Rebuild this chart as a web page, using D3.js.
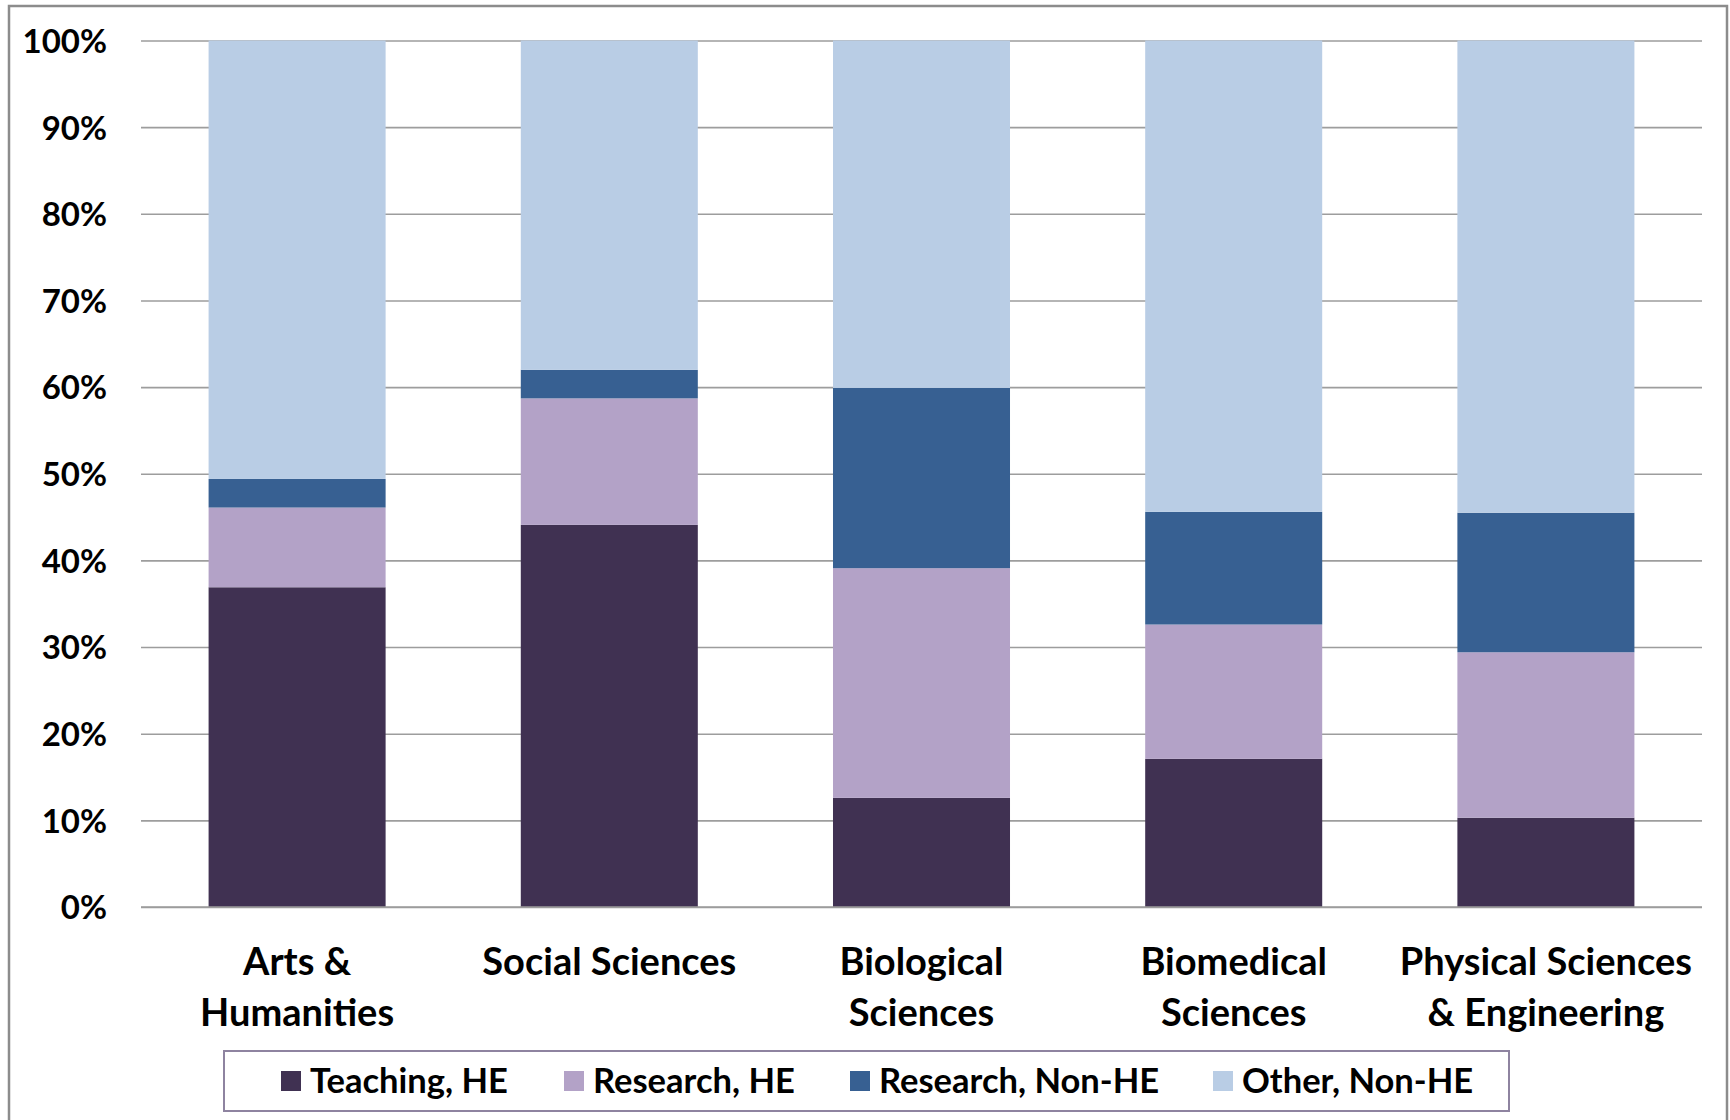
<!DOCTYPE html>
<html>
<head>
<meta charset="utf-8">
<script src="https://cdn.jsdelivr.net/npm/d3@7"></script>
<style>
  body { margin: 0; background: #fff; }
  svg { display: block; font-family: Lato, "Open Sans", sans-serif; font-weight: bold; }
</style>
</head>
<body>
<div id="chart"></div>
<script>
const categories = [
  ['Arts &', 'Humanities'],
  ['Social Sciences'],
  ['Biological', 'Sciences'],
  ['Biomedical', 'Sciences'],
  ['Physical Sciences', '& Engineering'],
];
const seriesNames = ['Teaching, HE', 'Research, HE', 'Research, Non-HE', 'Other, Non-HE'];
const teachingHE = [36.9, 44.1, 12.6, 17.1, 10.3];
const researchHE = [9.2, 14.6, 26.5, 15.5, 19.1];
const researchNonHE = [3.3, 3.3, 20.8, 13.0, 16.1];
const otherNonHE = [50.6, 38.0, 40.1, 54.4, 54.5];
const yTicks = [0, 10, 20, 30, 40, 50, 60, 70, 80, 90, 100];
const colors = ['#403152', '#b3a2c7', '#376092', '#b9cde5'];

const width = 1730, height = 1120;
const margin = { top: 40.5, right: 28, bottom: 213, left: 141 };
const graphWidth = width - margin.left - margin.right;
const graphHeight = height - margin.top - margin.bottom;

const svg = d3.select('#chart')
  .append('svg')
  .attr('width', width)
  .attr('height', height);

// outer frame
svg.append('rect')
  .attr('x', 9).attr('y', 6)
  .attr('width', 1718).attr('height', 1130)
  .attr('fill', 'none')
  .attr('stroke', '#8c8c8c')
  .attr('stroke-width', 2.5);

const g = svg.append('g').attr('transform', `translate(${margin.left},${margin.top})`);

const keys = categories.map((c) => c.join(' '));
const rows = keys.map((k, i) => ({
  key: k,
  s0: teachingHE[i],
  s1: researchHE[i],
  s2: researchNonHE[i],
  s3: otherNonHE[i],
}));

const xScale = d3.scaleBand()
  .domain(keys)
  .range([0, graphWidth])
  .paddingInner(0.433)
  .paddingOuter(0.2165);

const yScale = d3.scaleLinear().domain([0, 100]).range([graphHeight, 0]);

// gridlines
const yAxis = d3.axisLeft(yScale)
  .tickValues(yTicks)
  .tickSize(-graphWidth)
  .tickFormat((d) => d + '%');

const axisG = g.append('g').attr('class', 'yAxis').call(yAxis);
axisG.select('.domain').remove();
axisG.selectAll('line').attr('stroke', '#9d9d9d').attr('stroke-width', 1.6);
axisG.selectAll('text')
  .attr('x', -34)
  .attr('dy', '0.36em')
  .attr('fill', '#000')
  .style('font-size', '33px')
  .style('font-family', 'Lato, sans-serif')
  .style('font-weight', 'bold');

const stack = d3.stack().keys(['s0', 's1', 's2', 's3']);
const layers = stack(rows);

g.selectAll('g.layer')
  .data(layers)
  .enter()
  .append('g')
  .attr('class', 'layer')
  .attr('fill', (d, i) => colors[i])
  .selectAll('rect')
  .data((d) => d)
  .enter()
  .append('rect')
  .attr('x', (d) => xScale(d.data.key))
  .attr('width', xScale.bandwidth())
  .attr('y', (d) => yScale(Math.min(d[1], 100)))
  .attr('height', (d) => yScale(d[0]) - yScale(Math.min(d[1], 100)));

// baseline
g.append('line')
  .attr('x1', 0).attr('x2', graphWidth)
  .attr('y1', graphHeight).attr('y2', graphHeight)
  .attr('stroke', '#9d9d9d')
  .attr('stroke-width', 1.6);

// category labels
const catG = g.append('g').attr('class', 'xAxis');
categories.forEach((lines, i) => {
  const t = catG.append('text')
    .attr('x', xScale(keys[i]) + xScale.bandwidth() / 2)
    .attr('y', graphHeight + 68)
    .attr('text-anchor', 'middle')
    .style('font-size', '38px')
    .attr('fill', '#000');
  lines.forEach((l, j) => {
    t.append('tspan')
      .attr('x', xScale(keys[i]) + xScale.bandwidth() / 2)
      .attr('dy', j === 0 ? 0 : 51)
      .text(l);
  });
});

// legend
const legend = svg.append('g').attr('transform', 'translate(224,1051)');
legend.append('rect')
  .attr('width', 1285).attr('height', 60)
  .attr('fill', '#fff')
  .attr('stroke', '#8e83a0')
  .attr('stroke-width', 2);

const legendX = [57, 340, 626, 989];
seriesNames.forEach((name, i) => {
  const item = legend.append('g').attr('transform', `translate(${legendX[i]},0)`);
  item.append('rect')
    .attr('x', 0).attr('y', 20)
    .attr('width', 20).attr('height', 20)
    .attr('fill', colors[i]);
  item.append('text')
    .attr('x', 29).attr('y', 30)
    .attr('dy', '0.36em')
    .style('font-size', '34.5px')
    .attr('fill', '#000')
    .text(name);
});
</script>
</body>
</html>
